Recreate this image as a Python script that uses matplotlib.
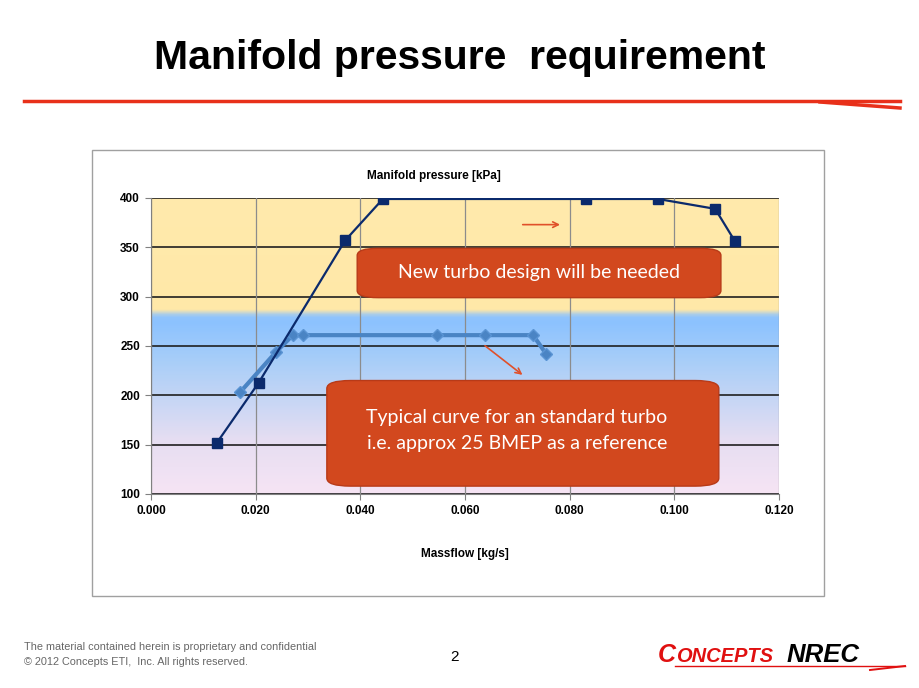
import numpy as np
import matplotlib.pyplot as plt
from matplotlib.colors import LinearSegmentedColormap
from matplotlib.patches import FancyBboxPatch, Rectangle
from matplotlib.lines import Line2D

# data
new_flow = [0.0126, 0.0206, 0.0371, 0.0443, 0.0831, 0.0969, 0.1078, 0.1116]
new_press = [152, 213, 357, 399, 399, 399, 389, 356]
std_flow = [0.0170, 0.0239, 0.0271, 0.0290, 0.0547, 0.0638, 0.0730, 0.0755]
std_press = [203, 244, 261, 261, 261, 261, 261, 242]
xticks = [0.0, 0.02, 0.04, 0.06, 0.08, 0.10, 0.12]
yticks = [100, 150, 200, 250, 300, 350, 400]

plt.rcParams['font.family'] = ['Liberation Sans', 'DejaVu Sans']

fig = plt.figure(figsize=(9.2, 6.88), dpi=100)
fig.patch.set_facecolor('white')

# slide title and rule
fig.text(0.5, 0.915, 'Manifold pressure  requirement', ha='center', va='center',
         fontsize=29.5, fontweight='bold')
fig.add_artist(Line2D([24/920, 900/920], [1-101/688, 1-101/688], color='#E8301A', lw=2.5))
fig.add_artist(Line2D([820/920, 900/920], [1-102/688, 1-108/688], color='#E8301A', lw=2.5))

# chart frame
fig.add_artist(Rectangle((92/920, 1-596/688), (824-92)/920, (596-150)/688,
                         transform=fig.transFigure, fill=False, ec='#A0A0A0', lw=1))

ax = fig.add_axes([151/920, 1-494/688, 628/920, 296/688])

# background gradient
stops = [(0.0, '#F6E4F4'), (0.18, '#E6DEF2'), (0.45, '#A8CEF8'), (0.58, '#8CC2FF'),
         (0.60, '#90C4FC'), (0.625, '#FFE8A8'), (1.0, '#FFEAAC')]
cmap = LinearSegmentedColormap.from_list('bg', stops)
grad = np.linspace(0, 1, 300).reshape(-1, 1)
ax.imshow(grad, cmap=cmap, origin='lower', extent=[0, 0.12, 100, 400],
          aspect='auto', zorder=0, interpolation='bilinear')

ax.set_xlim(0, 0.12)
ax.set_ylim(100, 400)
ax.set_xticks(xticks)
ax.set_yticks(yticks)
ax.set_xticklabels(['%.3f' % v for v in xticks])
for y in yticks:
    ax.axhline(y, color='#202020', lw=1.2, zorder=1)
for x in xticks:
    ax.axvline(x, color='#8C8C8C', lw=0.9, zorder=1)
for s in ['top', 'right']:
    ax.spines[s].set_visible(False)
ax.spines['left'].set_color('#808080')
ax.spines['bottom'].set_color('#808080')
ax.tick_params(length=4, color='#808080', labelsize=8.5, pad=4)
for lab in ax.get_xticklabels() + ax.get_yticklabels():
    lab.set_fontweight('bold')

ax.plot(std_flow, std_press, color='#4A84C4', lw=3, marker='D', ms=6,
        mfc='#4A84C4', mec='#5A94D4', zorder=3)
ax.plot(new_flow, new_press, color='#0B2A6C', lw=1.6, marker='s', ms=6.5,
        mfc='#0B2A6C', mec='#0B2A6C', zorder=4)

ax.set_title('Manifold pressure [kPa]', fontsize=8.5, fontweight='bold', pad=14, x=0.45)
ax.set_xlabel('Massflow [kg/s]', fontsize=8.5, fontweight='bold', labelpad=22)

# callout boxes
box_col = '#D2481E'
box_font = ['Lato', 'DejaVu Sans']
ax.add_patch(FancyBboxPatch((0.0394, 299), 0.0695, 50, boxstyle='round,pad=0,rounding_size=0.004',
                            mutation_aspect=300/0.12/1.4, fc=box_col, ec='#B83A18', lw=1, zorder=5))
ax.text(0.0741, 324, 'New turbo design will be needed', ha='center', va='center',
        color='white', fontsize=14, family=box_font, zorder=6)
ax.add_patch(FancyBboxPatch((0.0336, 108), 0.0749, 107, boxstyle='round,pad=0,rounding_size=0.0045',
                            mutation_aspect=300/0.12/1.4, fc=box_col, ec='#B83A18', lw=1, zorder=5))
ax.text(0.0699, 178, 'Typical curve for an standard turbo', ha='center', va='center',
        color='white', fontsize=14, family=box_font, zorder=6)
ax.text(0.0699, 151, 'i.e. approx 25 BMEP as a reference', ha='center', va='center',
        color='white', fontsize=14, family=box_font, zorder=6)

ax.annotate('', xy=(0.0787, 373), xytext=(0.0705, 373),
            arrowprops=dict(arrowstyle='->', color='#E0502A', lw=1.2), zorder=6)
ax.annotate('', xy=(0.0714, 219), xytext=(0.0634, 252),
            arrowprops=dict(arrowstyle='->', color='#E0502A', lw=1.2), zorder=6)

# footer
fig.text(24/920, 1-647/688, 'The material contained herein is proprietary and confidential',
         fontsize=7.8, color='#666666', va='center')
fig.text(24/920, 1-662/688, '\u00a9 2012 Concepts ETI,  Inc. All rights reserved.',
         fontsize=7.8, color='#666666', va='center')
fig.text(455/920, 1-657/688, '2', fontsize=11, ha='center', va='center')
fig.text(658/920, 1-655/688, 'C', fontsize=18, color='#E01010', fontweight='bold',
         style='italic', va='center')
fig.text(676/920, 1-656/688, 'ONCEPTS', fontsize=14.5, color='#E01010', fontweight='bold',
         style='italic', va='center')
fig.text(787/920, 1-655/688, 'NREC', fontsize=18.5, color='black', fontweight='bold',
         style='italic', va='center')
fig.add_artist(Line2D([675/920, 905/920], [1-666/688, 1-666/688], color='#E01010', lw=1))
fig.add_artist(Line2D([870/920, 905/920], [1-670/688, 1-666/688], color='#E01010', lw=1.4))

fig.savefig('out.png', dpi=100)
